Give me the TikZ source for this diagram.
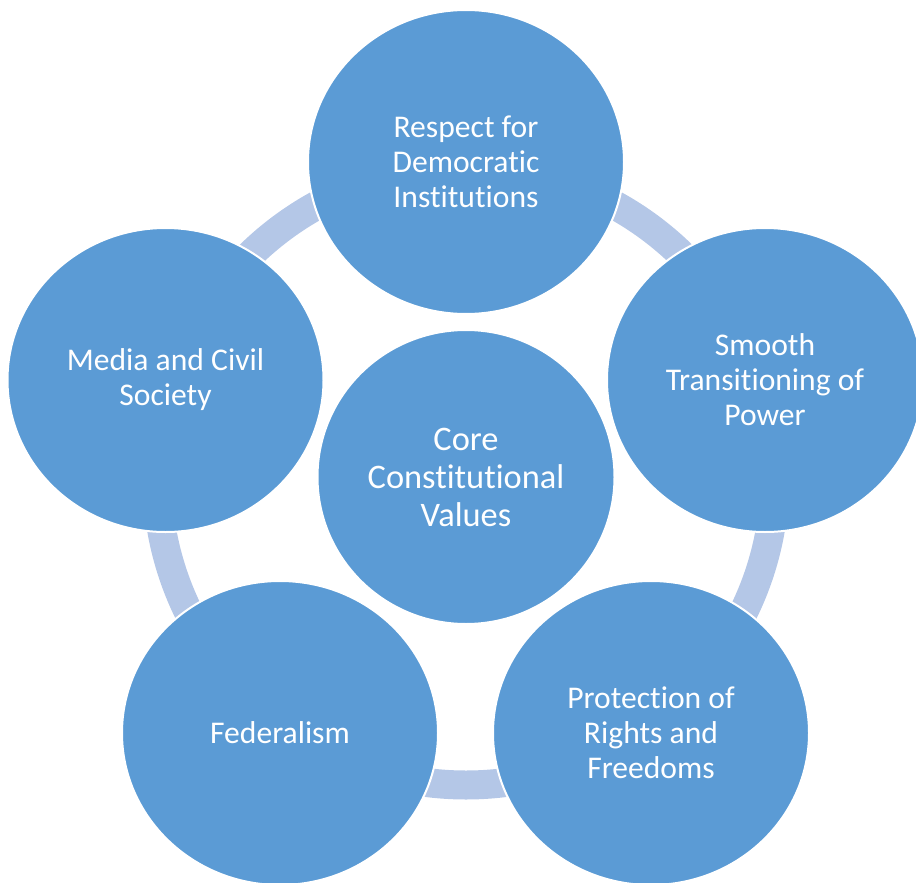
\documentclass[tikz,border=0pt]{standalone}
\usepackage{fontspec}
\setmainfont{Carlito}[Ligatures={NoCommon}]
\usetikzlibrary{shapes.geometric}
\definecolor{bubble}{HTML}{5B9BD5}
\definecolor{ringcol}{HTML}{B4C7E7}
\tikzset{
  outer/.style={ellipse, fill=bubble, draw=white, line width=2pt, inner sep=0pt,
    minimum width=316pt, minimum height=304pt, text=white, align=center,
    font=\fontsize{31.6pt}{35pt}\selectfont},
  core/.style={ellipse, fill=bubble, draw=white, line width=2pt, inner sep=0pt,
    minimum width=297pt, minimum height=294pt, text=white, align=center,
    font=\fontsize{34.4pt}{38pt}\selectfont},
  ring/.style={draw=ringcol, line width=29pt}
}
\begin{document}
\begin{tikzpicture}[x=1pt, y=-1pt]
\useasboundingbox (0,0) rectangle (916,883);
\coordinate (ringc) at (466,476);
\draw[ring] (ringc) circle[radius=309];
\node[outer] (top) at (466,162) {Respect for\\Democratic\\Institutions};
\node[outer] (right) at (765,380) {Smooth\\Transitioning of\\Power};
\node[outer] (bright) at (651,733) {Protection of\\Rights and\\Freedoms};
\node[outer] (bleft) at (280,733) {Federalism};
\node[outer] (left) at (165.5,380) {Media and Civil\\Society};
\node[core] (center) at (466,477) {Core\\Constitutional\\Values};
\end{tikzpicture}
\end{document}
